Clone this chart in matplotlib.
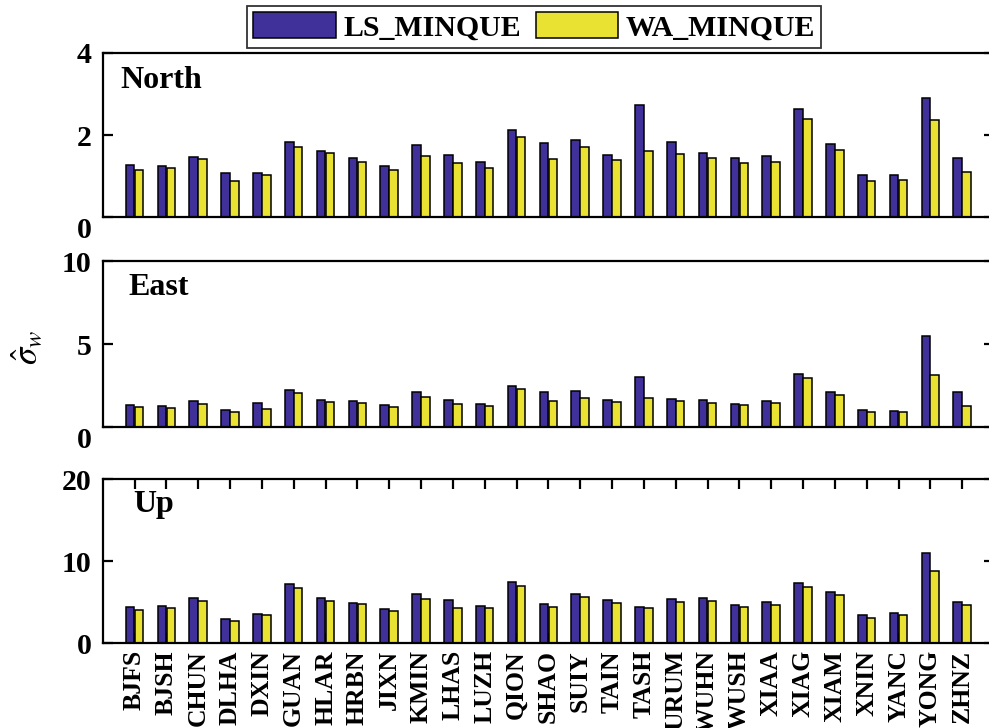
import matplotlib
matplotlib.use("Agg")
import matplotlib.pyplot as plt
import matplotlib.transforms as mtransforms
import numpy as np

stations = ["BJFS", "BJSH", "CHUN", "DLHA", "DXIN", "GUAN", "HLAR", "HRBN", "JIXN",
            "KMIN", "LHAS", "LUZH", "QION", "SHAO", "SUIY", "TAIN", "TASH", "URUM",
            "WUHN", "WUSH", "XIAA", "XIAG", "XIAM", "XNIN", "YANC", "YONG", "ZHNZ"]

north_ls = [1.28, 1.25, 1.46, 1.07, 1.08, 1.84, 1.60, 1.44, 1.24, 1.75, 1.52, 1.34, 2.13,
            1.80, 1.89, 1.52, 2.73, 1.82, 1.57, 1.43, 1.49, 2.62, 1.79, 1.02, 1.02, 2.89, 1.43]
north_wa = [1.16, 1.19, 1.42, 0.88, 1.02, 1.70, 1.57, 1.34, 1.16, 1.49, 1.32, 1.19, 1.96,
            1.42, 1.70, 1.39, 1.62, 1.55, 1.44, 1.33, 1.34, 2.40, 1.64, 0.89, 0.90, 2.36, 1.10]

east_ls = [1.34, 1.26, 1.56, 1.05, 1.48, 2.25, 1.62, 1.56, 1.36, 2.11, 1.64, 1.38, 2.49,
           2.13, 2.17, 1.64, 3.04, 1.72, 1.64, 1.42, 1.56, 3.22, 2.11, 1.05, 0.97, 5.51, 2.11]
east_wa = [1.21, 1.15, 1.42, 0.91, 1.13, 2.04, 1.50, 1.44, 1.21, 1.80, 1.42, 1.26, 2.31,
           1.56, 1.74, 1.52, 1.74, 1.56, 1.46, 1.36, 1.48, 2.98, 1.92, 0.95, 0.89, 3.12, 1.26]

up_ls = [4.41, 4.49, 5.47, 2.98, 3.55, 7.27, 5.51, 4.90, 4.16, 6.04, 5.27, 4.57, 7.43,
         4.78, 6.00, 5.31, 4.41, 5.39, 5.55, 4.61, 4.98, 7.39, 6.20, 3.39, 3.63, 10.98, 4.98]
up_wa = [4.04, 4.24, 5.10, 2.69, 3.39, 6.69, 5.10, 4.78, 3.88, 5.43, 4.33, 4.29, 7.02,
         4.45, 5.63, 4.86, 4.29, 5.02, 5.10, 4.37, 4.69, 6.86, 5.88, 3.14, 3.43, 8.82, 4.61]

panel_names = ["North", "East", "Up"]
y_maxes = [4, 10, 20]
y_ticks = [[0, 2, 4], [0, 5, 10], [0, 10, 20]]
series_names = ["LS_MINQUE", "WA_MINQUE"]

BLUE = "#40309A"
YELLOW = "#EAE232"
FONT = "Liberation Serif"

plt.rcParams["font.family"] = FONT
plt.rcParams["mathtext.fontset"] = "stix"

fig = plt.figure(figsize=(9.89, 7.28), dpi=100)
W, H = 989.0, 728.0
left_px, right_px = 102.7, 994.0
panels_px = [(52.7, 217.3), (261.0, 427.3), (479.0, 643.3)]
text_pos = [(0.0194, 0.786), (0.0287, 0.7955), (0.0343, 0.801)]

data = [(north_ls, north_wa), (east_ls, east_wa), (up_ls, up_wa)]
x = np.arange(1, len(stations) + 1)
bw = 0.27
off = 0.14

axes = []
for i, (top, bot) in enumerate(panels_px):
    ax = fig.add_axes([left_px / W, 1 - bot / H, (right_px - left_px) / W, (bot - top) / H])
    ls, wa = data[i]
    ax.bar(x - off, ls, width=bw, color=BLUE, edgecolor="black", linewidth=1.1,
           label=series_names[0], zorder=2)
    ax.bar(x + off, wa, width=bw, color=YELLOW, edgecolor="black", linewidth=1.1,
           label=series_names[1], zorder=2)
    ax.set_xlim(0, len(stations) + 1)
    ax.set_ylim(0, y_maxes[i])
    ax.set_yticks(y_ticks[i])
    ax.set_yticklabels([str(t) for t in y_ticks[i]], fontsize=21.5, fontweight="bold")
    for s in ax.spines.values():
        s.set_linewidth(1.6)
    ax.tick_params(axis="y", which="both", direction="in", length=7, width=1.6,
                   left=True, right=True, pad=8)
    if i < 2:
        ax.tick_params(axis="x", which="both", bottom=False, top=False,
                       labelbottom=False)
        lbl = ax.get_yticklabels()[0]
        lbl.set_transform(lbl.get_transform() +
                          mtransforms.ScaledTranslation(0, -10 / 100.0, fig.dpi_scale_trans))
    else:
        ax.set_xticks(x)
        ax.set_xticklabels(stations, rotation=90, fontsize=18.5, fontweight="bold",
                           va="top", ha="center")
        ax.tick_params(axis="x", which="both", direction="in", length=7, width=1.6,
                       bottom=True, top=True, pad=5)
    ax.text(text_pos[i][0], text_pos[i][1], panel_names[i], transform=ax.transAxes,
            fontsize=23, fontweight="bold", va="baseline", ha="left")
    axes.append(ax)

handles, labels = axes[0].get_legend_handles_labels()
leg = fig.legend(handles, labels, loc="center", bbox_to_anchor=(534 / W, 1 - 27 / H),
                 ncol=2, fancybox=False, shadow=False, frameon=True,
                 prop={"family": FONT, "weight": "bold", "size": 21.5},
                 handlelength=2.75, handleheight=0.95, handletextpad=0.25,
                 columnspacing=0.5, borderpad=0.22, borderaxespad=0)
leg.get_frame().set_edgecolor("black")
leg.get_frame().set_linewidth(1.3)

fig.text(28 / W, 1 - 347 / H, r"$\hat{\sigma}_w$", rotation=90, ha="center",
         va="center", fontsize=25, fontweight="normal")

fig.savefig("out.png", dpi=100)
